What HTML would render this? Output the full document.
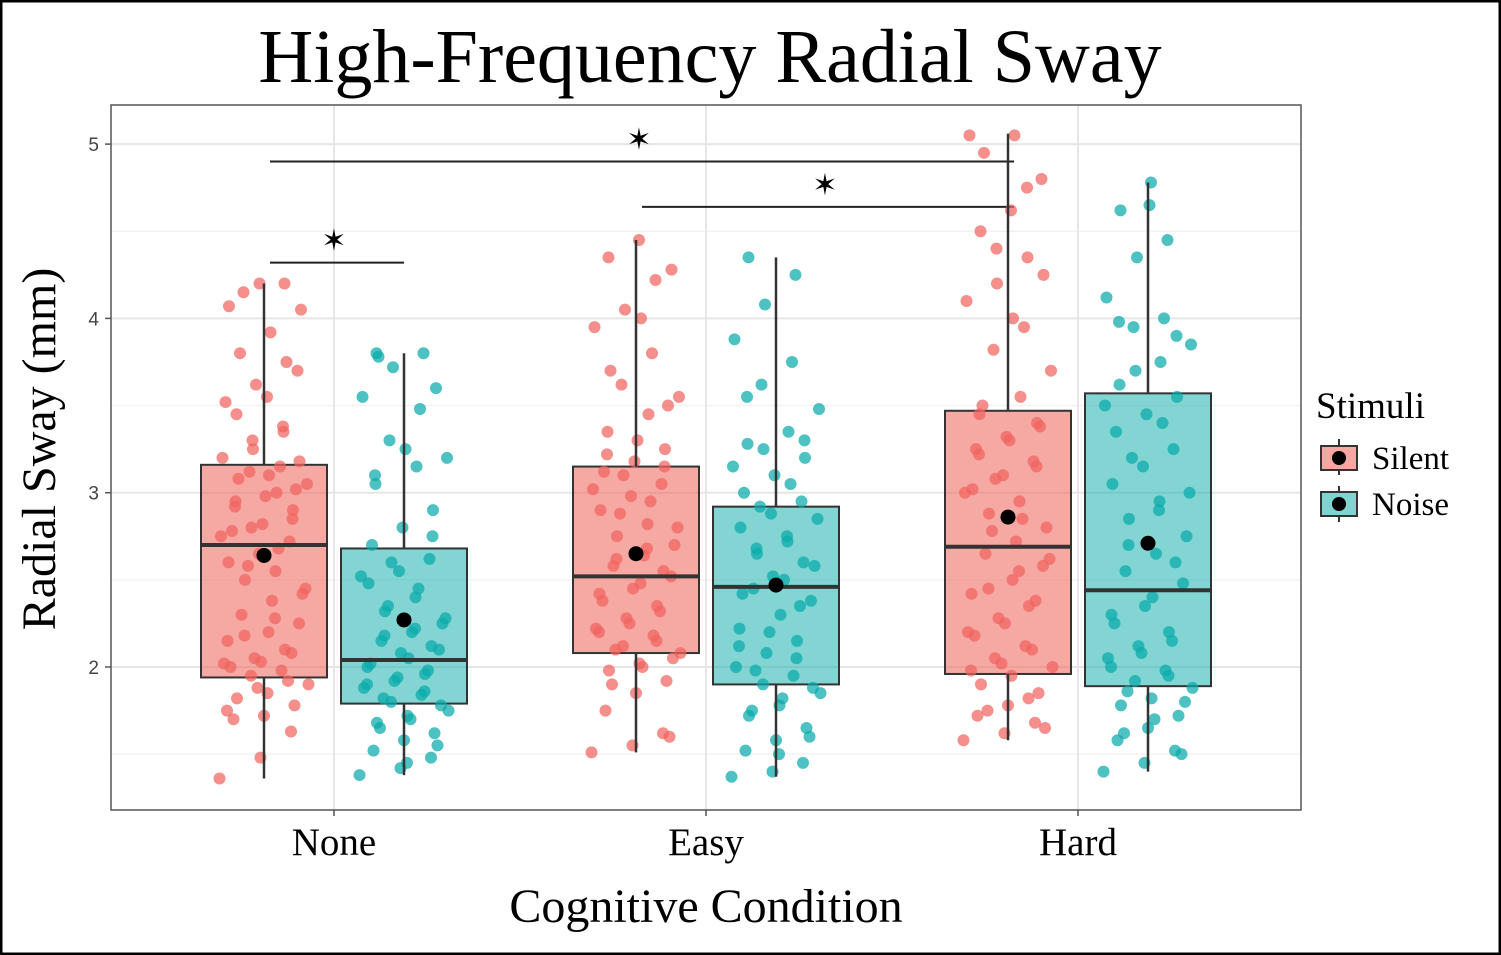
<!DOCTYPE html>
<html><head><meta charset="utf-8">
<style>
html,body{margin:0;padding:0;background:#fff;}
svg{display:block;}
text{font-family:"Liberation Serif",serif;}
</style></head>
<body>
<svg id="chart" width="1501" height="955" viewBox="0 0 1501 955" xmlns="http://www.w3.org/2000/svg">
<rect x="1" y="1" width="1499" height="953" fill="#fff" stroke="#000" stroke-width="3"/>
<text x="710" y="82" font-size="76" text-anchor="middle">High-Frequency Radial Sway</text>
<g id="grid"></g>
<g id="sig"></g>
<g id="marks"></g>
<rect x="111" y="105" width="1190" height="705" fill="none" stroke="#555" stroke-width="1.5"/>
<g id="axes"></g>
<text x="706" y="922" font-size="48" text-anchor="middle">Cognitive Condition</text>
<text transform="translate(55,449) rotate(-90)" font-size="48" text-anchor="middle">Radial Sway (mm)</text>
<g>
<text x="1316" y="418" font-size="37">Stimuli</text>
<g>
<line x1="1339" y1="439" x2="1339" y2="475" stroke="#333" stroke-width="2"/>
<rect x="1321" y="446" width="36" height="24" fill="#f6a7a2" stroke="#333" stroke-width="2"/>
<circle cx="1339" cy="458" r="7" fill="#000"/>
<text x="1372" y="469" font-size="33">Silent</text></g>
<g>
<line x1="1339" y1="486" x2="1339" y2="522" stroke="#333" stroke-width="2"/>
<rect x="1321" y="492" width="36" height="24" fill="#7fd4d2" stroke="#333" stroke-width="2"/>
<circle cx="1339" cy="504" r="7" fill="#000"/>
<text x="1372" y="515" font-size="33">Noise</text></g>
</g>
</svg>
<script>
const categories = ["None","Easy","Hard"];
const groups = ["Silent","Noise"];
const q1 = [[1.94,1.79],[2.08,1.90],[1.96,1.89]];
const medians = [[2.70,2.04],[2.52,2.46],[2.69,2.44]];
const q3 = [[3.16,2.68],[3.15,2.92],[3.47,3.57]];
const whiskerLow = [[1.36,1.38],[1.51,1.37],[1.58,1.40]];
const whiskerHigh = [[4.20,3.80],[4.45,4.35],[5.06,4.78]];
const means = [[2.64,2.27],[2.65,2.47],[2.86,2.71]];
const yTicks = [2,3,4,5];
const yMinor = [1.5,2.5,3.5,4.5];
const pts_None_Silent=[1.36,1.48,1.63,1.7,1.72,1.78,1.82,1.85,1.9,1.95,1.98,2.02,2.05,2.1,2.15,2.2,2.25,2.3,2.38,2.42,2.5,2.55,2.6,2.65,2.72,2.78,2.82,2.9,2.95,3.0,3.05,3.12,3.15,3.2,3.25,3.35,3.45,3.55,3.7,3.8,3.92,4.05,4.15,4.2,1.75,1.88,1.92,2.0,2.03,2.08,2.18,2.28,2.45,2.58,2.68,2.75,2.8,2.85,2.92,2.98,3.02,3.08,3.1,3.18,3.3,3.38,3.52,3.62,3.75,4.07,4.2];
const pts_None_Noise=[1.38,1.42,1.48,1.52,1.58,1.62,1.68,1.72,1.75,1.8,1.84,1.88,1.92,1.96,2.0,2.05,2.1,2.15,2.2,2.25,2.32,2.4,2.48,2.55,2.62,2.7,2.8,2.9,3.05,3.15,3.2,3.3,3.48,3.55,3.72,3.8,3.8,1.45,1.55,1.65,1.7,1.78,1.82,1.86,1.9,1.94,1.98,2.02,2.08,2.12,2.18,2.22,2.28,2.35,2.45,2.52,2.6,2.75,3.1,3.25,3.6,3.78];
const pts_Easy_Silent=[1.51,1.55,1.62,1.75,1.85,1.92,1.98,2.02,2.08,2.12,2.18,2.22,2.28,2.35,2.42,2.48,2.52,2.58,2.64,2.7,2.75,2.82,2.9,2.98,3.05,3.12,3.18,3.25,3.35,3.45,3.55,3.62,3.8,3.95,4.05,4.22,4.35,4.45,1.6,1.9,2.0,2.05,2.1,2.15,2.2,2.25,2.32,2.38,2.45,2.55,2.62,2.68,2.8,2.88,2.95,3.02,3.1,3.15,3.22,3.3,3.5,3.7,4.0,4.28];
const pts_Easy_Noise=[1.37,1.4,1.45,1.52,1.58,1.65,1.72,1.78,1.85,1.9,1.95,2.0,2.08,2.15,2.22,2.3,2.38,2.45,2.5,2.58,2.65,2.72,2.8,2.88,2.95,3.0,3.1,3.2,3.28,3.35,3.48,3.62,3.75,3.88,4.08,4.25,4.35,1.5,1.6,1.75,1.82,1.88,1.98,2.05,2.12,2.2,2.35,2.42,2.52,2.6,2.68,2.75,2.85,2.92,3.05,3.15,3.25,3.3,3.55];
const pts_Hard_Silent=[1.58,1.62,1.68,1.72,1.78,1.85,1.9,1.95,2.0,2.05,2.12,2.2,2.28,2.35,2.42,2.5,2.58,2.65,2.72,2.8,2.88,2.95,3.02,3.1,3.18,3.25,3.32,3.4,3.45,3.55,3.7,3.82,3.95,4.1,4.2,4.35,4.5,4.62,4.8,4.95,5.05,1.65,1.75,1.82,1.98,2.02,2.1,2.18,2.25,2.38,2.45,2.55,2.62,2.78,2.85,3.0,3.08,3.15,3.22,3.3,3.38,3.5,4.0,4.25,4.4,4.75,5.05];
const pts_Hard_Noise=[1.4,1.45,1.52,1.58,1.65,1.72,1.78,1.82,1.88,1.92,1.98,2.05,2.12,2.2,2.3,2.4,2.48,2.55,2.65,2.75,2.85,2.95,3.05,3.15,3.25,3.35,3.45,3.55,3.62,3.75,3.85,3.95,4.0,4.12,4.35,4.45,4.62,4.78,1.5,1.62,1.7,1.8,1.86,1.95,2.0,2.08,2.15,2.25,2.35,2.6,2.7,2.9,3.0,3.2,3.4,3.5,3.7,3.9,3.98,4.65];
const points = [[pts_None_Silent,pts_None_Noise],[pts_Easy_Silent,pts_Easy_Noise],[pts_Hard_Silent,pts_Hard_Noise]];
const sigBars = [[0,0,2,0,4.9],[1,0,2,0,4.64],[0,0,0,1,4.32]];

const NS="http://www.w3.org/2000/svg";
const X0=111,X1=1301,Y0=105,Y1=810;
function y(v){return 667-(v-2)*174.3;}
function xc(i){return 334+i*372;}
function xg(i,g){return xc(i)+(g===0?-70:70);}
function mk(tag,attrs,parent){const e=document.createElementNS(NS,tag);for(const k in attrs)e.setAttribute(k,attrs[k]);parent.appendChild(e);return e;}
const grid=document.getElementById('grid'),marks=document.getElementById('marks'),axes=document.getElementById('axes'),sig=document.getElementById('sig');
yMinor.forEach(v=>{const l=mk('line',{x1:X0,x2:X1,y1:y(v),y2:y(v),stroke:'#f2f2f2','stroke-width':1.5},grid);

});
yTicks.forEach(v=>{const l=mk('line',{x1:X0,x2:X1,y1:y(v),y2:y(v),stroke:'#e6e6e6','stroke-width':2},grid);


mk('line',{x1:X0-6,x2:X0,y1:y(v),y2:y(v),stroke:'#555','stroke-width':1.5},axes);
const t=mk('text',{x:X0-12,y:y(v)+7,'font-size':19,'text-anchor':'end',fill:'#444',style:'font-family:Liberation Sans,sans-serif'},axes);t.textContent=v;

});
categories.forEach((c,i)=>{const l=mk('line',{x1:xc(i),x2:xc(i),y1:Y0,y2:Y1,stroke:'#e6e6e6','stroke-width':2},grid);


mk('line',{x1:xc(i),x2:xc(i),y1:Y1,y2:Y1+6,stroke:'#555','stroke-width':1.5},axes);
const t=mk('text',{x:xc(i),y:855,'font-size':39,'text-anchor':'middle'},axes);t.textContent=c;

});
const fills=['rgba(240,110,102,0.6)','rgba(30,178,176,0.55)'];
const ptc=['rgba(240,100,95,0.72)','rgba(10,170,170,0.72)'];
categories.forEach((c,i)=>groups.forEach((g,j)=>{
 const cx=xg(i,j);
 const grp=mk('g',{},marks);
 
 
 mk('rect',{x:cx-63,y:y(q3[i][j]),width:126,height:y(q1[i][j])-y(q3[i][j]),fill:fills[j],stroke:'#333','stroke-width':2},grp);
 points[i][j].forEach((v,k)=>{const off=((k*37)%11-5)*8+((k*13)%7-3)*1.5;
  const p=mk('circle',{cx:cx+off,cy:y(v),r:6,fill:ptc[j]},grp);
  
  });
 mk('line',{x1:cx,x2:cx,y1:y(whiskerHigh[i][j]),y2:y(q3[i][j]),stroke:'#333','stroke-width':2.5},grp);
 mk('line',{x1:cx,x2:cx,y1:y(q1[i][j]),y2:y(whiskerLow[i][j]),stroke:'#333','stroke-width':2.5},grp);
 mk('line',{x1:cx-63,x2:cx+63,y1:y(medians[i][j]),y2:y(medians[i][j]),stroke:'#333','stroke-width':4},grp);
 const m=mk('circle',{cx:cx,cy:y(means[i][j]),r:7.5,fill:'#000'},grp);
 
 
}));
sigBars.forEach(s=>{const xa=xg(s[0],s[1]),xb=xg(s[2],s[3])+(s[2]===s[0]?0:6);const yy=y(s[4]);
 const l=mk('line',{x1:xa+6,x2:xb,y1:yy,y2:yy,stroke:'#222','stroke-width':2},sig);
 
 
 const t=mk('text',{x:(xa+xb)/2,y:yy-12,'font-size':30,'text-anchor':'middle',style:'font-family:DejaVu Sans,sans-serif'},sig);t.textContent='✶';
 
 });
</script>
</body></html>
